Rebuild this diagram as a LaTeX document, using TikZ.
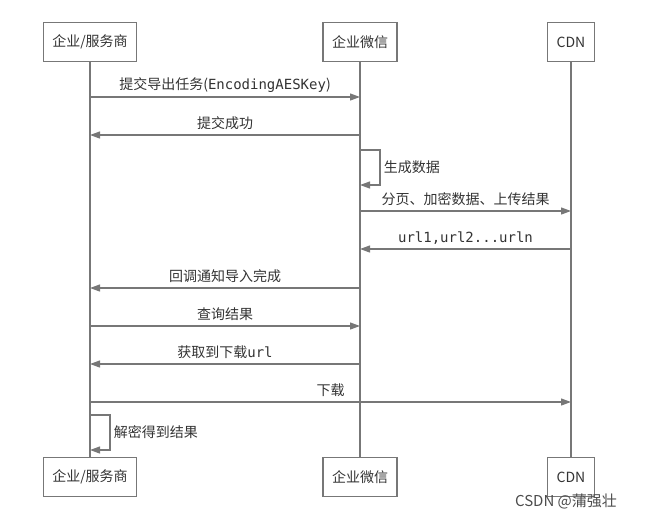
\documentclass[tikz,border=0pt]{standalone}
\usepackage{fontspec}
\setmainfont{Noto Sans CJK SC}
\setmonofont{DejaVu Sans Mono}
\usetikzlibrary{arrows.meta}
\definecolor{ln}{HTML}{777777}
\definecolor{tx}{HTML}{333333}
\begin{document}
\begin{tikzpicture}[x=1pt,y=-1pt,
  font=\fontsize{14}{16}\selectfont, text=tx,
  actor/.style={draw=ln,line width=1.5pt,fill=white,minimum height=39pt,inner xsep=9pt},
  life/.style={ln,line width=1.5pt},
  msg/.style={ln,line width=1.2pt,-{Triangle[length=10pt,width=7pt]}},
  lbl/.style={above=1pt,text=tx,font=\fontsize{14}{16}\selectfont}]
\useasboundingbox (0,0) rectangle (648,520);
\node[actor] (a1) at (90,42) {企业/服务商};
\node[actor] (b1) at (360,42) {企业微信};
\node[actor] (c1) at (571,42) {CDN};
\node[actor] (a2) at (90,477) {企业/服务商};
\node[actor] (b2) at (360,477) {企业微信};
\node[actor] (c2) at (571,477) {CDN};
\draw[life] (a1) -- (a2); \draw[life] (b1) -- (b2); \draw[life] (c1) -- (c2);
\foreach \y/\n in {97/p1,135/p2,150/p3,185/p4,211/p5,249/p6,288/p7,326/p8,364/p9,402/p10,415/p11,450/p12}{
  \coordinate (a\n) at (90,\y); \coordinate (b\n) at (360,\y); \coordinate (c\n) at (571,\y);}
\draw[msg] (ap1) -- node[lbl]{提交导出任务(\texttt{EncodingAESKey})} (bp1);
\draw[msg] (bp2) -- node[lbl]{提交成功} (ap2);
\draw[msg] (bp3) -- ++(20,0) |- node[pos=0.25,right,text=tx]{生成数据} (bp4);
\draw[msg] (bp5) -- node[lbl]{分页、加密数据、上传结果} (cp5);
\draw[msg] (cp6) -- node[lbl]{\texttt{url1,url2...urln}} (bp6);
\draw[msg] (bp7) -- node[lbl]{回调通知导入完成} (ap7);
\draw[msg] (ap8) -- node[lbl]{查询结果} (bp8);
\draw[msg] (bp9) -- node[lbl]{获取到下载\texttt{url}} (ap9);
\draw[msg] (ap10) -- node[lbl,pos=0.5]{下载} (cp10);
\draw[msg] (ap11) -- ++(20,0) |- node[pos=0.25,right,text=tx]{解密得到结果} (ap12);
\node[text=gray!60!black,font=\fontsize{15}{17}\selectfont] (wm) at (566,501) {CSDN @蒲强壮};
\end{tikzpicture}
\end{document}
